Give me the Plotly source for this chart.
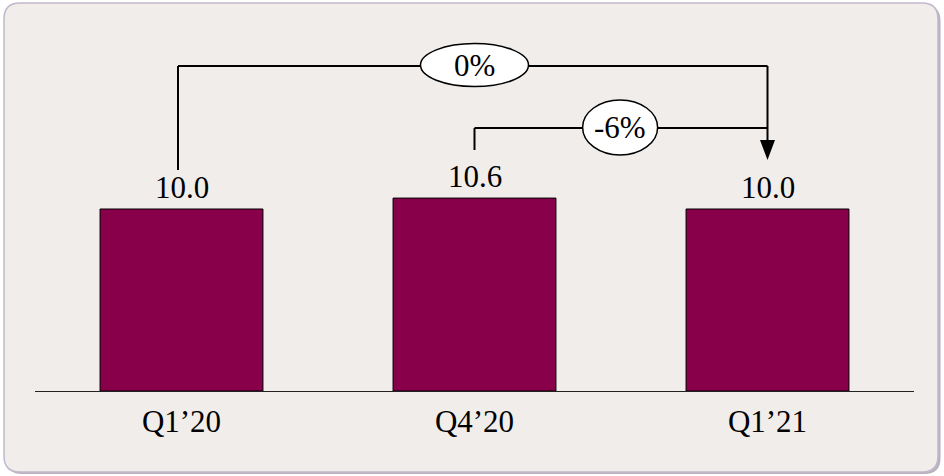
import plotly.graph_objects as go

# ---- data ----
categories = ["Q1\u201920", "Q4\u201920", "Q1\u201921"]
values = [10.0, 10.6, 10.0]
value_labels = ["10.0", "10.6", "10.0"]
# change connectors: (from index, to index, label)
change_from = [0, 1]
change_to = [2, 2]
change_labels = ["0%", "-6%"]

# ---- layout constants ----
W, H = 944, 476
ML, MR, MT, MB = 35, 30, 0, 85
PLOT_W = W - ML - MR
PLOT_H = H - MT - MB
PX_PER_UNIT = 18.2
Y_TOP = PLOT_H / PX_PER_UNIT
FONT = "Liberation Serif"
FS = 31
BAR_COLOR = "#88004A"
UX = 3.0 / PLOT_W  # data units per pixel in x


def px_x(px):
    return (px - ML) / PLOT_W


def px_y(py):
    return (PLOT_H + MT - py) / PLOT_H


fig = go.Figure()
fig.add_trace(go.Bar(
    x=list(range(len(categories))), y=values,
    width=0.556,
    marker=dict(color=BAR_COLOR, line=dict(color="black", width=1)),
    hoverinfo="skip",
))

shapes = []
def rrect(x0, y0, x1, y1, r):
    rx, ry = r / PLOT_W, r / PLOT_H
    X0, X1 = px_x(x0), px_x(x1)
    Yt, Yb = px_y(y0), px_y(y1)
    return (f"M {X0+rx},{Yt} L {X1-rx},{Yt} Q {X1},{Yt} {X1},{Yt-ry} "
            f"L {X1},{Yb+ry} Q {X1},{Yb} {X1-rx},{Yb} L {X0+rx},{Yb} "
            f"Q {X0},{Yb} {X0},{Yb+ry} L {X0},{Yt-ry} Q {X0},{Yt} {X0+rx},{Yt} Z")

shapes.append(dict(type="path", xref="paper", yref="paper", layer="below",
                   path=rrect(6, 5, 940.5, 474, 16), fillcolor="#b9b0c0",
                   line=dict(width=0)))
shapes.append(dict(type="path", xref="paper", yref="paper", layer="below",
                   path=rrect(4, 3, 938, 472, 16), fillcolor="#f0edea",
                   line=dict(color="#c2b8cb", width=1.5)))

# connector geometry (units above values)
conn_top = [17.86, 14.45]
conn_start = [values[0] + 2.14, values[1] + 2.64]
arrow_tip = values[2] + 2.69
arrow_len = 20 / PX_PER_UNIT
arrow_half = 7.5 * UX
x_shift = [-3.5 * UX, 0]
ell_x = [1.0, 1.497]
ell_w = [108 * UX, 75 * UX]
ell_h = [43 / PX_PER_UNIT, 55 / PX_PER_UNIT]
ell_dy = [0.05, 0.03]

line_style = dict(color="black", width=2)
for k in range(len(change_labels)):
    xa = change_from[k] + x_shift[k]
    xb = change_to[k]
    shapes.append(dict(type="line", xref="x", yref="y", x0=xa, x1=xa,
                       y0=conn_start[k], y1=conn_top[k], line=line_style))
    shapes.append(dict(type="line", xref="x", yref="y", x0=xa, x1=xb,
                       y0=conn_top[k], y1=conn_top[k], line=line_style))

xr = change_to[0]
shapes.append(dict(type="line", xref="x", yref="y", x0=xr, x1=xr,
                   y0=max(conn_top), y1=arrow_tip + arrow_len, line=line_style))
shapes.append(dict(type="path", xref="x", yref="y",
                   path=f"M {xr-arrow_half},{arrow_tip+arrow_len} L {xr+arrow_half},{arrow_tip+arrow_len} L {xr},{arrow_tip} Z",
                   fillcolor="black", line=dict(width=0)))

annotations = []
# value labels above bars
for i, (v, lab) in enumerate(zip(values, value_labels)):
    annotations.append(dict(x=i, y=v, xref="x", yref="y", text=lab,
                            showarrow=False, yanchor="bottom", yshift=2,
                            font=dict(family=FONT, size=FS, color="black")))

for k in range(len(change_labels)):
    cy = conn_top[k] + ell_dy[k]
    shapes.append(dict(type="circle", xref="x", yref="y",
                       x0=ell_x[k] - ell_w[k] / 2, x1=ell_x[k] + ell_w[k] / 2,
                       y0=cy - ell_h[k] / 2, y1=cy + ell_h[k] / 2,
                       fillcolor="white", line=dict(color="black", width=1.5)))
    annotations.append(dict(x=ell_x[k], y=cy, xref="x", yref="y",
                            text=change_labels[k], showarrow=False,
                            font=dict(family=FONT, size=FS, color="black")))

fig.update_layout(
    width=W, height=H,
    margin=dict(l=ML, r=MR, t=MT, b=MB, pad=0),
    paper_bgcolor="white", plot_bgcolor="rgba(0,0,0,0)",
    showlegend=False,
    shapes=shapes, annotations=annotations,
    xaxis=dict(range=[-0.5, 2.5], tickvals=list(range(len(categories))),
               ticktext=categories, showgrid=False, zeroline=False,
               showline=True, linecolor="#222222", linewidth=1.2,
               ticks="", ticklabelstandoff=3,
               tickfont=dict(family=FONT, size=FS, color="black"),
               fixedrange=True),
    yaxis=dict(range=[0, Y_TOP], visible=False, fixedrange=True),
)

fig.write_html("out.html", config={"displayModeBar": False})
